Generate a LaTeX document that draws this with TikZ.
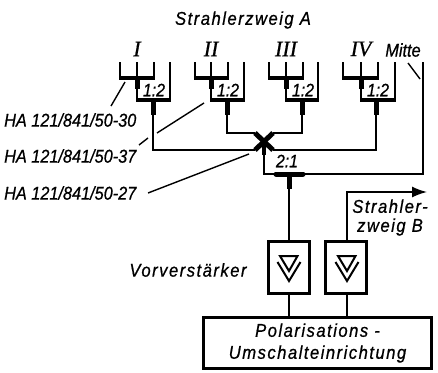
\documentclass[tikz,border=0pt]{standalone}
\usepackage{fontspec}
\setmainfont{Liberation Sans}[FakeStretch=0.88, FakeBold=0.7]
\newfontfamily\widefont{Liberation Sans}[FakeStretch=0.9, FakeBold=0.7, LetterSpace=8]
\newfontfamily\numfont{Liberation Serif}[FakeBold=0.5]
\usepackage{tikz}
\usetikzlibrary{arrows.meta, positioning}

\begin{document}
\begin{tikzpicture}[
    x=1pt, y=-1pt,
    lbl/.style={inner sep=0pt, font=\fontsize{18.5}{20}\selectfont\itshape, align=center},
    widelbl/.style={inner sep=0pt, font=\widefont\fontsize{18.5}{19}\selectfont\itshape, align=center},
    numlbl/.style={inner sep=0pt, font=\fontsize{22}{22}\selectfont\numfont\itshape},
    ratiolbl/.style={inner sep=0pt, font=\fontsize{18}{18}\selectfont\itshape},
    thin line/.style={line width=1.5pt},
    fork/.style={line width=1.5pt},
    bar/.style={line width=4.2pt},
    stub/.style={line width=5pt},
    leader/.style={line width=1.4pt},
    ampbox/.style={rectangle, draw, line width=3pt, minimum width=41pt, minimum height=52pt, inner sep=0pt},
    polbox/.style={rectangle, draw, line width=3pt, minimum width=228pt, minimum height=51pt, align=center, inner sep=0pt,
        font=\widefont\fontsize{18.5}{22}\selectfont\itshape},
    arrow/.style={-{Latex[length=15pt, width=11pt]}, line width=1.5pt}
]
\useasboundingbox (0,0) rectangle (438,372);

% Labels at the top
\node[widelbl] (branchA) at (243,20) {Strahlerzweig A};
\node[numlbl] (nI) at (137,49) {I};
\node[numlbl] (nII) at (211,49) {II};
\node[numlbl] (nIII) at (286,49) {III};
\node[numlbl] (nIV) at (361,49) {IV};
\node[lbl] (mitte) at (403,50) {Mitte};

% Part numbers on the left
\node[lbl, anchor=west] (ha30) at (4,120) {HA 121/841/50-30};
\node[lbl, anchor=west] (ha37) at (4,156) {HA 121/841/50-37};
\node[lbl, anchor=west] (ha27) at (4,193) {HA 121/841/50-27};

% Dividers 1:2
\node[ratiolbl] (r1) at (154,90) {1:2};
\node[ratiolbl] (r2) at (228,90) {1:2};
\node[ratiolbl] (r3) at (303,90) {1:2};
\node[ratiolbl] (r4) at (378,90) {1:2};
\node[ratiolbl] (r5) at (287,161) {2:1};

% Branch I
\draw[fork] (120,62) -- (120,78) (137,62) -- (137,78) (154,62) -- (154,78) (170,62) -- (170,100);
\draw[bar] (119.4,78) -- (154.6,78);
\draw[stub] (137,78) -- (137,89);
\draw[fork] (137,89) -- (137,100);
\draw[bar] (136.4,100) -- (170.6,100);
\draw[stub] (153,100) -- (153,115);
% Branch II
\draw[fork] (195,62) -- (195,78) (211,62) -- (211,78) (228,62) -- (228,78) (244,62) -- (244,100);
\draw[bar] (194.4,78) -- (228.6,78);
\draw[stub] (211,78) -- (211,89);
\draw[fork] (211,89) -- (211,100);
\draw[bar] (210.4,100) -- (244.6,100);
\draw[stub] (227,100) -- (227,115);
% Branch III
\draw[fork] (269,62) -- (269,78) (286,62) -- (286,78) (303,62) -- (303,78) (318,62) -- (318,100);
\draw[bar] (268.4,78) -- (303.6,78);
\draw[stub] (286,78) -- (286,89);
\draw[fork] (286,89) -- (286,100);
\draw[bar] (285.4,100) -- (318.6,100);
\draw[stub] (302,100) -- (302,115);
% Branch IV
\draw[fork] (343,62) -- (343,78) (361,62) -- (361,78) (378,62) -- (378,78) (395,62) -- (395,100);
\draw[bar] (342.4,78) -- (378.6,78);
\draw[stub] (361,78) -- (361,89);
\draw[fork] (361,89) -- (361,100);
\draw[bar] (360.4,100) -- (395.6,100);
\draw[stub] (376,100) -- (376,115);

% Crossing and lines to it
\coordinate (xul) at (255,133);
\coordinate (xur) at (273,133);
\coordinate (xll) at (255,150);
\coordinate (xlr) at (273,150);
\coordinate (xc) at (264,141.5);
\draw[thin line] (153,115) |- (xll);
\draw[thin line] (227,115) |- (xul);
\draw[thin line] (302,115) |- (xur);
\draw[thin line] (376,115) |- (xlr);
\draw[line width=5pt] (xul) -- (xlr);
\draw[line width=5pt] (xur) -- (xll);

% Combiner 2:1
\coordinate (tl) at (276,174);
\coordinate (tr) at (303,174);
\coordinate (tm) at (289,174);
\node[ampbox] (amp1) at (289,267.5) {};
\node[ampbox] (amp2) at (346,267.5) {};
\node[polbox] (pol) at (317.5,343) {Polarisations -\\Umschalteinrichtung};
\draw[line width=3.6pt] (xc) -- (264,155);
\draw[thin line] (264,155) |- (tl);
\draw[line width=5pt, line cap=round] (tl) -- (tr);
\draw[stub] (tm) -- (289,189);
\draw[thin line] (289,189) -- (amp1.north);
\draw[thin line] (tr) -| (423,62);

% Amplifier signs
\draw[line width=2pt] (280,256) -- (297.5,256) -- (289,271) -- cycle;
\draw[line width=2pt] (277.5,262) -- (289,281) -- (300.5,262);
\draw[line width=2pt] (338,256) -- (355.5,256) -- (347,271) -- cycle;
\draw[line width=2pt] (335.5,262) -- (347,281) -- (358.5,262);

% Amplifiers to switching unit, branch B output
\draw[thin line] (amp1.south) -- (amp1.south |- pol.north);
\draw[thin line] (347,294) -- (347,317);
\coordinate (outB) at (427,192);
\draw[arrow] (347,241) |- (outB);
\node[widelbl] (branchB) at (390,217.5) {Strahler-\\zweig B};
\node[widelbl] (vorv) at (188,270) {Vorverstärker};

% Leader lines
\draw[leader] (125,82) -- (111,106);
\draw[leader] (204,103) -- (157,133);
\draw[leader] (148,138) -- (139,145);
\draw[leader] (148,193) -- (249,154);
\draw[leader] (408,63) -- (420,79);

\end{tikzpicture}
\end{document}
